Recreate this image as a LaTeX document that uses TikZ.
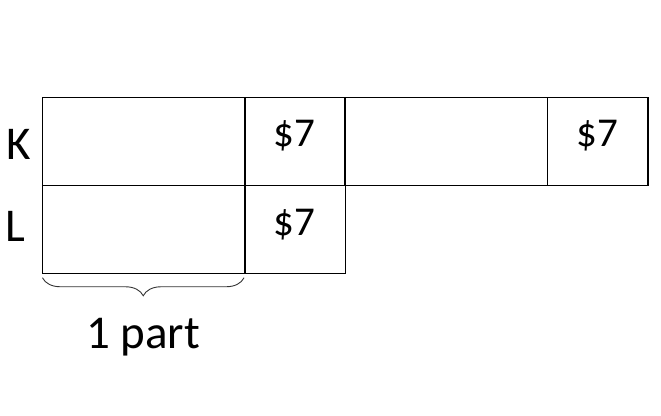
\documentclass[tikz,border=0pt]{standalone}
\usepackage{fontspec}
\setmainfont{Carlito}
\usetikzlibrary{decorations.pathreplacing}
\begin{document}
\begin{tikzpicture}[x=1pt,y=-1pt,
  cell/.style={draw=black,line width=1.1pt,inner sep=0pt,minimum height=88pt},
  wide/.style={cell,minimum width=202.5pt},
  narrow/.style={cell,minimum width=100.5pt},
  money/.style={anchor=base,inner sep=0pt,font=\fontsize{41}{48}\selectfont},
  rowlab/.style={anchor=base west,inner sep=0pt,font=\fontsize{47}{56}\selectfont},
  bracestyle/.style={draw=black!80,line width=0.9pt,decorate,decoration={brace,mirror,amplitude=18pt}}]
\useasboundingbox (0,0) rectangle (661,415);
% row K
\node[wide]   (k1) at (143.75,141.3) {};
\node[narrow] (k2) at (295,141.3) {};
\node[wide]   (k3) at (446.25,141.3) {};
\node[narrow] (k4) at (597.75,141.3) {};
% row L
\node[wide]   (l1) at (143.75,229.2) {};
\node[narrow] (l2) at (295,229.2) {};
% texts
\node[money] (m1) at (294.5,146.8) {\$7};
\node[money] (m2) at (597.5,146.8) {\$7};
\node[money] (m3) at (294.5,235.7) {\$7};
\node[rowlab] (K) at (6,159.3) {K};
\node[rowlab] (L) at (5,241) {L};
% brace
\coordinate (b1) at ([yshift=-4pt,xshift=0.5pt]l1.south west);
\coordinate (b2) at ([yshift=-4pt,xshift=-1.5pt]l1.south east);
\draw[bracestyle] (b1) -- (b2);
\node[rowlab] (part) at (86,348.3) {1 part};
\end{tikzpicture}
\end{document}
